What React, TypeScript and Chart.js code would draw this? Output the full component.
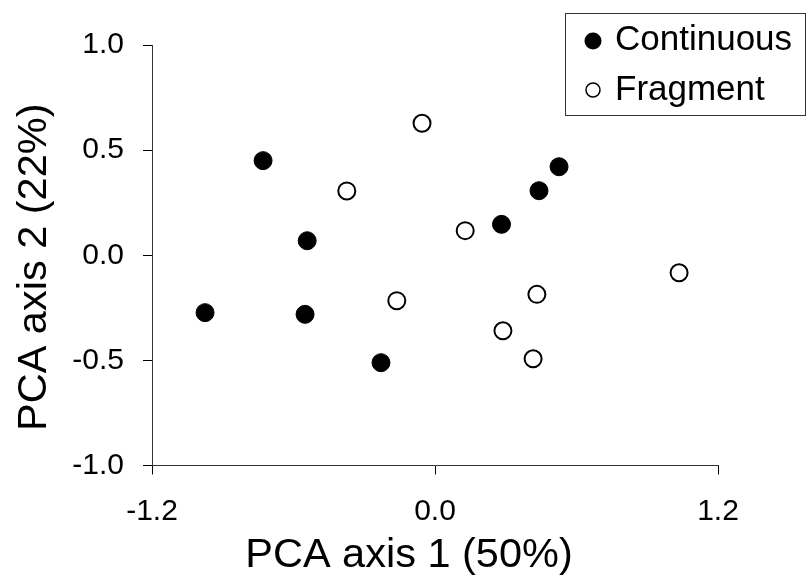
import React, { useEffect, useRef } from "react";
import { Chart, registerables } from "chart.js";

Chart.register(...registerables);

const FONT = '"Liberation Sans", Arial, Helvetica, sans-serif';

const SERIES_NAMES = ["Continuous", "Fragment"];
const continuousX = [-0.729, -0.542, -0.975, -0.551, -0.229, 0.282, 0.441, 0.526];
const continuousY = [0.45, 0.069, -0.273, -0.281, -0.511, 0.147, 0.307, 0.421];
const fragmentX = [-0.055, -0.374, 0.128, -0.162, 1.035, 0.432, 0.288, 0.416];
const fragmentY = [0.628, 0.306, 0.117, -0.216, -0.083, -0.186, -0.359, -0.492];
const X_TICKS = [-1.2, 0, 1.2];
const Y_TICKS = [-1, -0.5, 0, 0.5, 1];
const X_TITLE = "PCA axis 1 (50%)";
const Y_TITLE = "PCA axis 2 (22%)";

const toPoints = (xs: number[], ys: number[]) => xs.map((x, i) => ({ x, y: ys[i] }));

const overlayPlugin = {
  id: "overlay",
  afterDraw(chart: any) {
    const ctx = chart.ctx as CanvasRenderingContext2D;
    const area = chart.chartArea;
    ctx.save();
    ctx.fillStyle = "#000";
    // axis titles
    ctx.font = `41.5px ${FONT}`;
    ctx.textAlign = "center";
    ctx.textBaseline = "middle";
    ctx.fillText(X_TITLE, (area.left + area.right) / 2 - 26, chart.height - 27);
    ctx.save();
    ctx.translate(35, (area.top + area.bottom) / 2 + 12);
    ctx.rotate(-Math.PI / 2);
    ctx.fillText(Y_TITLE, 0, 0);
    ctx.restore();

    // legend
    const bx = 565.5, by = 13.5, bw = 240, bh = 102;
    ctx.fillStyle = "#fff";
    ctx.fillRect(bx, by, bw, bh);
    ctx.strokeStyle = "#333";
    ctx.lineWidth = 1;
    ctx.strokeRect(bx, by, bw, bh);
    const ds = chart.data.datasets;
    ctx.font = `35px ${FONT}`;
    ctx.textAlign = "left";
    ctx.textBaseline = "middle";
    const rows = [40, 90];
    ds.forEach((d: any, i: number) => {
      const cy = rows[i];
      ctx.beginPath();
      if (i === 0) {
        ctx.arc(593, cy + 1, 8.5, 0, Math.PI * 2);
        ctx.fillStyle = d.pointBackgroundColor;
        ctx.fill();
      } else {
        ctx.arc(593, cy, 7, 0, Math.PI * 2);
        ctx.fillStyle = "#fff";
        ctx.fill();
        ctx.lineWidth = 1.5;
        ctx.strokeStyle = "#000";
        ctx.stroke();
      }
      ctx.fillStyle = "#000";
      ctx.fillText(d.label, 615, cy);
    });
    ctx.restore();
  },
};

export default function App() {
  const ref = useRef<HTMLCanvasElement | null>(null);

  useEffect(() => {
    if (!ref.current) return;
    const axisGrid = {
      display: true,
      drawOnChartArea: false,
      drawTicks: true,
      tickLength: 9,
      color: "#000",
      lineWidth: 1,
    };
    const chart = new Chart(ref.current, {
      type: "scatter",
      data: {
        datasets: [
          {
            label: SERIES_NAMES[0],
            data: toPoints(continuousX, continuousY),
            pointRadius: 9,
            pointBackgroundColor: "#000",
            pointBorderColor: "#000",
            pointBorderWidth: 1,
          },
          {
            label: SERIES_NAMES[1],
            data: toPoints(fragmentX, fragmentY),
            pointRadius: 8.5,
            pointBackgroundColor: "#fff",
            pointBorderColor: "#000",
            pointBorderWidth: 2,
          },
        ],
      },
      options: {
        animation: false,
        responsive: true,
        maintainAspectRatio: false,
        layout: { padding: { left: 0, right: 93, top: 45, bottom: 0 } },
        plugins: {
          legend: { display: false },
          tooltip: { enabled: false },
        },
        scales: {
          x: {
            type: "linear",
            min: -1.2,
            max: 1.2,
            afterBuildTicks: (s: any) => {
              s.ticks = X_TICKS.map((v) => ({ value: v }));
            },
            afterFit: (s: any) => {
              s.height = 117.5;
            },
            grid: axisGrid,
            border: { display: true, color: "#333", width: 1 },
            ticks: {
              color: "#000",
              padding: 19,
              maxRotation: 0,
              font: { family: FONT, size: 30 },
              callback: (v: any) => Number(v).toFixed(1),
            },
            title: { display: false },
          },
          y: {
            type: "linear",
            min: -1,
            max: 1,
            afterBuildTicks: (s: any) => {
              s.ticks = Y_TICKS.map((v) => ({ value: v }));
            },
            afterFit: (s: any) => {
              s.width = 152;
            },
            grid: axisGrid,
            border: { display: true, color: "#333", width: 1 },
            ticks: {
              color: "#000",
              padding: 19,
              font: { family: FONT, size: 30 },
              callback: (v: any) => Number(v).toFixed(1),
            },
            title: { display: false },
          },
        },
      },
      plugins: [overlayPlugin],
    });
    return () => chart.destroy();
  }, []);

  return (
    <div style={{ position: "fixed", left: 0, top: 0, width: 811, height: 583, background: "#fff" }}>
      <canvas ref={ref} />
    </div>
  );
}
